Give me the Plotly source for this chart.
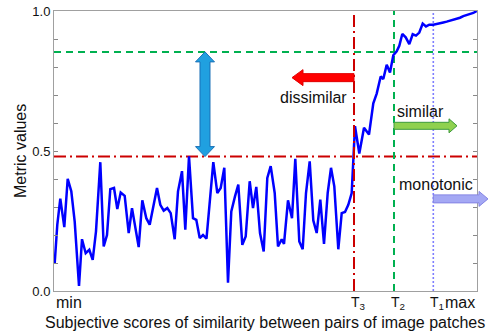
import plotly.graph_objects as go

# ---------------- data ----------------
scores = [0.7, 3.3, 6.3, 10.3, 13.7, 17.3, 20.7, 25, 28, 31.7, 35.3, 38.7, 42, 46.3, 49.7, 53, 56.3, 60, 63.3, 66.7, 70.7, 74.7,
          78, 81.3, 84.7, 88.3, 92.3, 95.7, 99.3, 103, 106.3, 109.7, 113.3, 116.7, 120.7, 124, 128, 131.3, 135, 139, 142.3, 145.7, 149, 152.5,
          159.3, 163.3, 166.7, 170.3, 174, 177.3, 181, 184.3, 188.3, 191.7, 195.7, 199, 202.3, 206, 209.7, 213.3, 216.7, 220.7, 224, 227.7,
          230, 234, 238, 241.3, 245.3, 248.7, 252, 255.7, 259.3, 262.7, 266.3, 270, 273.7, 277, 280.3, 284.3, 287.7, 291, 294.3, 297.7,
          301, 305.3, 310, 315, 319.3, 322.7, 326.7, 329.3, 332.7, 336, 339.3, 342.7, 345.3, 348.3, 351.7, 355.3, 358.7, 362, 365.3, 368.7,
          372, 375.3, 379.3, 382.7, 386, 389.3, 392.7, 396, 399.3, 402.7, 406, 409.3, 412.7, 416, 419.3, 422.7]
metric = [0.099, 0.237, 0.33, 0.228, 0.401, 0.356, 0.248, 0.018, 0.185, 0.135, 0.147, 0.111, 0.213, 0.46, 0.159, 0.2, 0.364, 0.368, 0.293, 0.352, 0.34, 0.207,
          0.296, 0.225, 0.157, 0.324, 0.26, 0.237, 0.296, 0.368, 0.308, 0.287, 0.296, 0.278, 0.185, 0.356, 0.428, 0.219, 0.481, 0.26, 0.254, 0.189, 0.2, 0.187,
          0.46, 0.35, 0.368, 0.44, 0.03, 0.284, 0.338, 0.38, 0.165, 0.195, 0.392, 0.296, 0.372, 0.207, 0.141, 0.404, 0.446, 0.35, 0.159, 0.185,
          0.168, 0.324, 0.26, 0.472, 0.177, 0.149, 0.35, 0.463, 0.252, 0.207, 0.326, 0.168, 0.35, 0.44, 0.374, 0.149, 0.278, 0.282, 0.308, 0.35,
          0.589, 0.491, 0.583, 0.559, 0.670, 0.705, 0.766, 0.757, 0.808, 0.78, 0.842, 0.856, 0.876, 0.918, 0.906, 0.882, 0.917, 0.912, 0.923, 0.955,
          0.945, 0.951, 0.951, 0.953, 0.956, 0.959, 0.962, 0.965, 0.968, 0.972, 0.976, 0.982, 0.986, 0.99, 0.993, 1.0]

score_min, score_max = 0, 423
T3, T2, T1 = 300, 340, 379.3
level_low, level_high = 0.48, 0.854

y_tick_vals = [0.0, 0.5, 1.0]
y_tick_text = ["0.0", "0.5", "1.0"]
y_minor_vals = [0.1, 0.2, 0.3, 0.4, 0.6, 0.7, 0.8, 0.9]

x_labels = ["min", "T<sub>3</sub>", "T<sub>2</sub>", "T<sub>1</sub>", "max"]

# arrow extents (score / metric units)
dissimilar_tip = 238
similar_tip = 403
monotonic_tip = 434
gap_arrow_x = 151
y_dissimilar, y_similar, y_monotonic = 0.762, 0.590, 0.329

# ---------------- geometry helpers ----------------
PX_X = 423.0  # px per paper unit (x)
PX_Y = 280.0  # px per paper unit (y)
FONT = "Liberation Sans, Arial, Helvetica, sans-serif"


def px(s):
    return (s - score_min) / (score_max - score_min)


def harrow(x_tail, x_tip, y, body, head_w, head_len):
    d = 1 if x_tip > x_tail else -1
    hb = body / 2 / PX_Y
    hh = head_w / 2 / PX_Y
    xb = x_tip - d * head_len / PX_X
    pts = [(x_tail, y - hb), (xb, y - hb), (xb, y - hh), (x_tip, y), (xb, y + hh), (xb, y + hb), (x_tail, y + hb)]
    return "M " + " L ".join(f"{a:.5f},{b:.5f}" for a, b in pts) + " Z"


def vdarrow(x, y0, y1, body, head_w, head_len):
    hb = body / 2 / PX_X
    hh = head_w / 2 / PX_X
    hl = head_len / PX_Y
    pts = [(x, y1), (x + hh, y1 - hl), (x + hb, y1 - hl), (x + hb, y0 + hl), (x + hh, y0 + hl), (x, y0),
           (x - hh, y0 + hl), (x - hb, y0 + hl), (x - hb, y1 - hl), (x - hh, y1 - hl)]
    return "M " + " L ".join(f"{a:.5f},{b:.5f}" for a, b in pts) + " Z"


fig = go.Figure()

RED = "#cc0000"
GREEN = "#00b050"
LBLUE = "#7f7fff"

# reference lines
fig.add_trace(go.Scatter(x=[score_min, score_max], y=[level_low, level_low], mode="lines",
                         line=dict(color=RED, width=2, dash="12px,4px,2px,4px"), hoverinfo="skip"))
fig.add_trace(go.Scatter(x=[score_min, score_max], y=[level_high, level_high], mode="lines",
                         line=dict(color=GREEN, width=2, dash="7px,5px"), hoverinfo="skip"))
fig.add_trace(go.Scatter(x=[T2, T2], y=[0, 1], mode="lines",
                         line=dict(color=GREEN, width=2, dash="7px,5px"), hoverinfo="skip"))
fig.add_trace(go.Scatter(x=[T1, T1], y=[0, 1], mode="lines",
                         line=dict(color=LBLUE, width=1.6, dash="2px,2px"), hoverinfo="skip"))

# curve
fig.add_trace(go.Scatter(x=scores, y=metric, mode="lines",
                         line=dict(color="#0000ff", width=2.5), hoverinfo="skip"))

fig.add_trace(go.Scatter(x=[T3, T3], y=[0, 1], mode="lines",
                         line=dict(color=RED, width=2, dash="12px,4px,2px,4px"), hoverinfo="skip"))

shapes = [
    dict(type="path", xref="paper", yref="paper",
         path=vdarrow(px(gap_arrow_x), level_low, level_high, 10, 19, 10),
         fillcolor="#20a0e0", line=dict(color="#1a70b8", width=1)),
    dict(type="path", xref="paper", yref="paper",
         path=harrow(px(T3), px(dissimilar_tip), y_dissimilar, 8, 16, 11),
         fillcolor="#ff0000", line=dict(color="#e00000", width=1)),
    dict(type="path", xref="paper", yref="paper",
         path=harrow(px(T2), px(similar_tip), y_similar, 7, 14, 8),
         fillcolor="#8fd14f", line=dict(color="#3c9a3c", width=1)),
    dict(type="path", xref="paper", yref="paper",
         path=harrow(px(T1), px(monotonic_tip), y_monotonic, 8, 15, 9),
         fillcolor="#a4a8f4", line=dict(color="#8484e4", width=1)),
]

ann = []
tf = dict(family=FONT, size=16, color="#111")
tsf = dict(family=FONT, size=14, color="#111")
ann.append(dict(x=259, y=0.692, xref="x", yref="y", text="dissimilar", showarrow=False, font=tf))
ann.append(dict(x=366, y=0.640, xref="x", yref="y", text="similar", showarrow=False, font=tf))
ann.append(dict(x=381.5, y=0.382, xref="x", yref="y", text="monotonic", showarrow=False, font=tf))

# x axis labels
ly = -0.042
ann.append(dict(x=0, y=ly, xref="paper", yref="paper", text=x_labels[0], showarrow=False,
                xanchor="left", yanchor="middle", font=tf))
for lab, t in zip(x_labels[1:4], [T3, T2, T1]):
    ann.append(dict(x=px(t), y=ly, xref="paper", yref="paper", text=lab, showarrow=False,
                    xanchor="left", xshift=-5, yanchor="middle", font=tsf))
ann.append(dict(x=1.0, y=ly, xref="paper", yref="paper", text=x_labels[4], showarrow=False,
                xanchor="right", yanchor="middle", font=tf))

# axis titles
ann.append(dict(x=0.499, y=-0.114, xref="paper", yref="paper",
                text="Subjective scores of similarity between pairs of image patches",
                showarrow=False, yanchor="middle", font=tf))
ann.append(dict(x=-34 / PX_X, y=0.5, xref="paper", yref="paper", text="Metric values",
                showarrow=False, textangle=-90, xanchor="center", yanchor="middle", font=tf))

fig.update_layout(
    width=488, height=335, autosize=False,
    margin=dict(l=54, r=11, t=11, b=44, pad=0, autoexpand=False),
    plot_bgcolor="white", paper_bgcolor="white",
    showlegend=False,
    shapes=shapes,
    annotations=ann,
    xaxis=dict(range=[score_min, score_max], showgrid=False, zeroline=False,
               showticklabels=False, ticks="", showline=True, linecolor="#a0a0a0",
               linewidth=1, mirror=True, automargin=False),
    yaxis=dict(range=[0, 1], showgrid=False, zeroline=False,
               tickvals=y_tick_vals, ticktext=y_tick_text, ticks="inside", ticklen=4,
               tickcolor="#888", showline=True, linecolor="#a0a0a0", linewidth=1,
               mirror="ticks", automargin=False,
               minor=dict(tickvals=y_minor_vals, ticks="inside", ticklen=4, tickcolor="#888",
                          showgrid=False),
               tickfont=dict(family=FONT, size=13, color="#111")),
)

fig.write_html("out.html", config={"displayModeBar": False, "responsive": False},
               post_script="document.body.style.margin='0';document.body.style.padding='0';")
